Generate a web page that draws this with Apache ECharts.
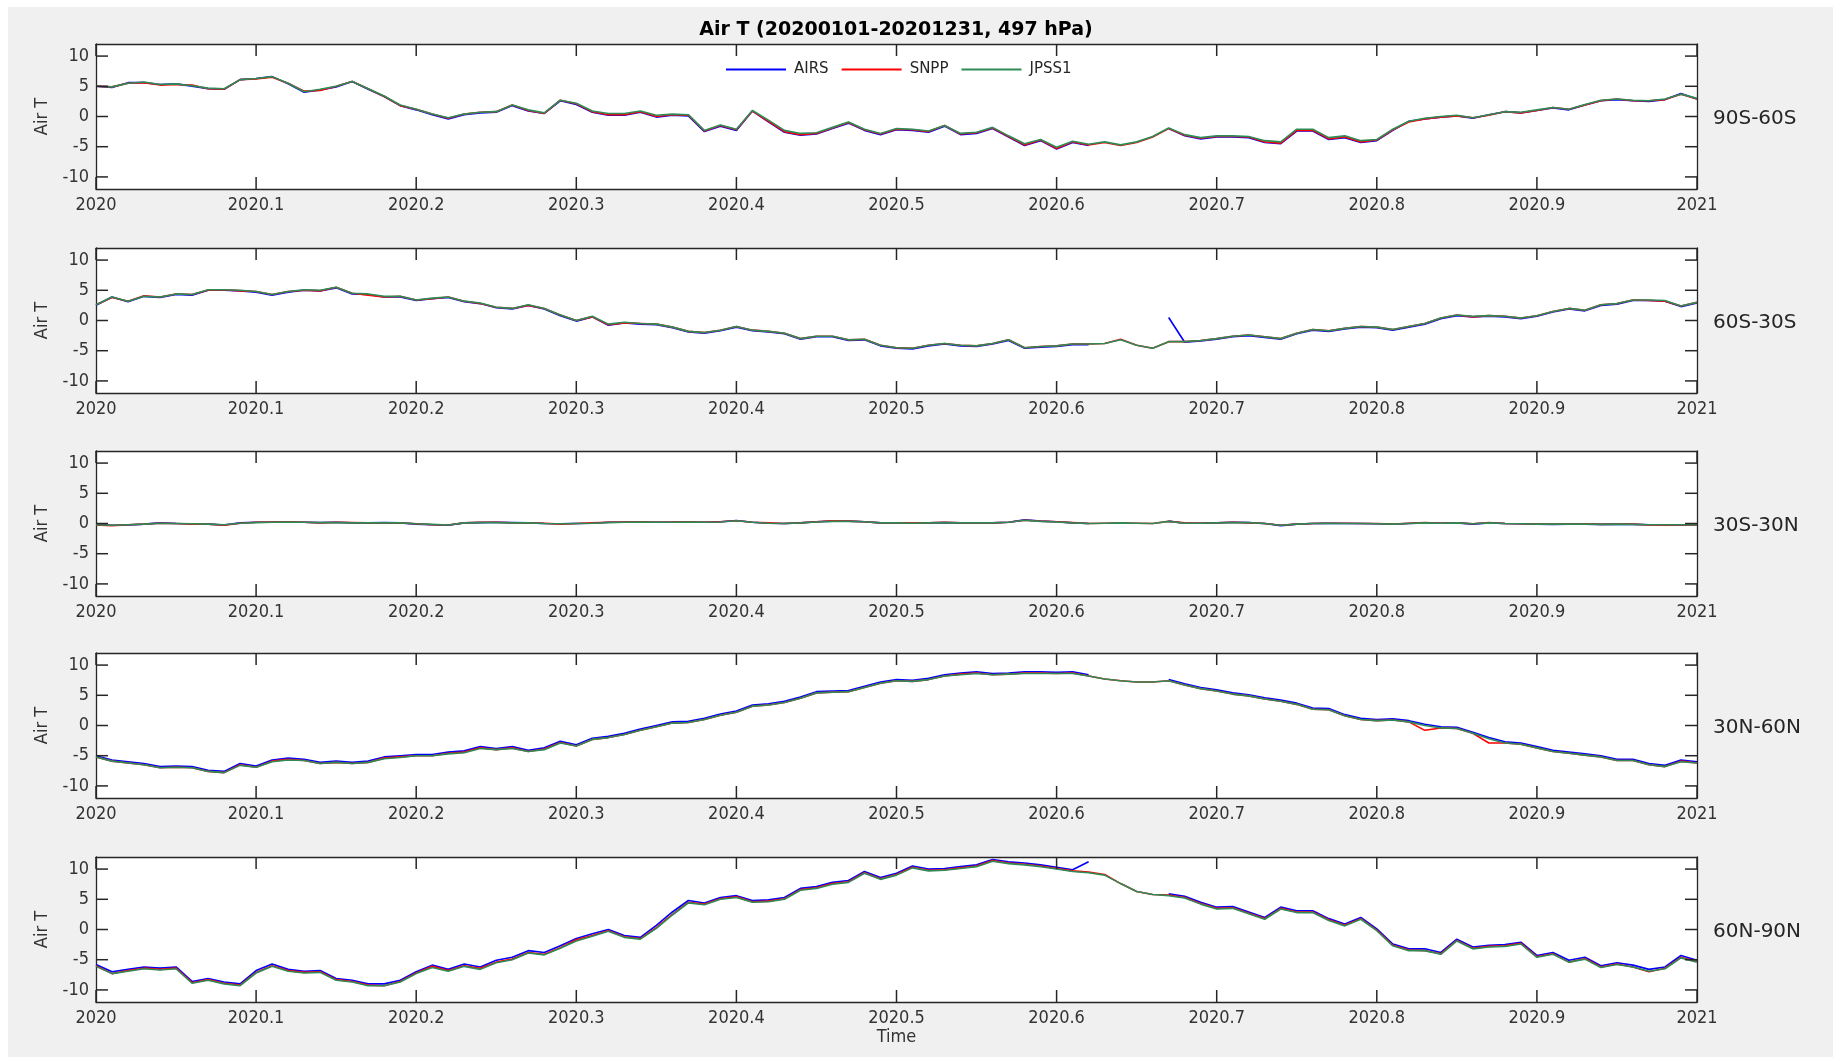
<!DOCTYPE html>
<html>
<head>
<meta charset="utf-8">
<script src="https://cdn.jsdelivr.net/npm/echarts@6/dist/echarts.min.js"></script>
<style>
html,body{margin:0;padding:0;background:#f0f0f0;}
#chart{width:1833px;height:1057px;}
</style>
</head>
<body>
<div id="chart"></div>
<script>
// ---------------- DATA ----------------
const SERIES_NAMES = ['AIRS', 'SNPP', 'JPSS1'];
const REGIONS = ['90S-60S', '60S-30S', '30S-30N', '30N-60N', '60N-90N'];
const X_TICKS = [2020, 2020.1, 2020.2, 2020.3, 2020.4, 2020.5, 2020.6, 2020.7, 2020.8, 2020.9, 2021];
const X_TICK_LABELS = ['2020', '2020.1', '2020.2', '2020.3', '2020.4', '2020.5', '2020.6', '2020.7', '2020.8', '2020.9', '2021'];
const Y_TICKS = [-10, -5, 0, 5, 10];
const TITLE = 'Air T (20200101-20201231, 497 hPa)';

// sampling grid: 2020.00, 2020.01, ... 2021.00 (decimal year)
const TIME = [];
for (let k = 0; k <= 100; k++) TIME.push(2020 + k / 100);

// 90S-60S
const P1_AIRS = [
  5.0, 4.8, 5.6, 5.6, 5.3, 5.4, 5.0, 4.6, 4.5, 6.1,
  6.3, 6.6, 5.4, 4.0, 4.4, 4.9, 5.8, 4.5, 3.3, 1.8,
  1.1, 0.3, -0.4, 0.3, 0.6, 0.7, 1.8, 0.9, 0.5, 2.6,
  2.0, 0.7, 0.2, 0.2, 0.7, -0.1, 0.2, 0.1, -2.5, -1.6,
  -2.3, 0.9, -0.9, -2.6, -3.1, -2.9, -2.0, -1.1, -2.3, -3.0,
  -2.2, -2.3, -2.6, -1.6, -3.0, -2.8, -2.0, -3.4, -4.8, -4.0,
  -5.4, -4.3, -4.8, null, null, null, null, -2.0, -3.2, -3.7,
  -3.4, -3.4, -3.5, -4.3, -4.5, -2.4, -2.4, -3.8, -3.5, -4.3,
  -4.0, -2.3, -0.8, -0.4, -0.1, 0.1, -0.3, 0.3, 0.8, 0.6,
  1.0, 1.4, 1.1, 1.9, 2.6, 2.8, 2.6, 2.5, 2.8, 3.8,
  2.9];
const P1_SNPP = [
  5.0, 4.9, 5.5, 5.6, 5.2, 5.3, 5.2, 4.6, 4.5, 6.1,
  6.2, 6.5, 5.5, 4.2, 4.3, 5.0, 5.8, 4.6, 3.3, 1.8,
  1.2, 0.4, -0.3, 0.4, 0.7, 0.8, 1.9, 1.0, 0.5, 2.7,
  2.1, 0.8, 0.3, 0.3, 0.8, 0.0, 0.3, 0.2, -2.4, -1.5,
  -2.2, 0.9, -0.8, -2.5, -3.0, -2.8, -1.9, -1.0, -2.2, -2.9,
  -2.1, -2.2, -2.5, -1.5, -2.9, -2.7, -1.9, -3.3, -4.7, -3.9,
  -5.3, -4.2, -4.7, -4.3, -4.8, -4.3, -3.4, -2.0, -3.1, -3.6,
  -3.3, -3.3, -3.4, -4.2, -4.4, -2.3, -2.3, -3.7, -3.4, -4.2,
  -3.9, -2.2, -0.9, -0.4, -0.1, 0.1, -0.2, 0.2, 0.8, 0.6,
  1.0, 1.5, 1.2, 1.9, 2.6, 2.9, 2.6, 2.6, 2.8, 3.7,
  2.9];
const P1_JPSS1 = [
  5.0, 4.9, 5.5, 5.7, 5.3, 5.4, 5.1, 4.7, 4.6, 6.1,
  6.3, 6.6, 5.5, 4.1, 4.5, 5.0, 5.8, 4.6, 3.4, 1.9,
  1.2, 0.4, -0.2, 0.4, 0.7, 0.8, 1.9, 1.1, 0.6, 2.7,
  2.2, 0.9, 0.5, 0.5, 0.9, 0.2, 0.4, 0.3, -2.3, -1.4,
  -2.1, 1.0, -0.6, -2.3, -2.8, -2.7, -1.8, -0.9, -2.1, -2.8,
  -2.0, -2.1, -2.4, -1.5, -2.8, -2.6, -1.8, -3.2, -4.5, -3.8,
  -5.1, -4.1, -4.6, -4.2, -4.7, -4.2, -3.3, -1.9, -3.0, -3.5,
  -3.2, -3.2, -3.3, -4.0, -4.2, -2.1, -2.1, -3.5, -3.2, -4.0,
  -3.8, -2.1, -0.8, -0.3, 0.0, 0.2, -0.2, 0.3, 0.8, 0.7,
  1.1, 1.5, 1.2, 2.0, 2.7, 2.9, 2.7, 2.6, 2.9, 3.7,
  3.0];

// 60S-30S
const P2_AIRS = [
  2.5, 3.9, 3.1, 4.0, 3.8, 4.3, 4.2, 5.0, 5.0, 4.9,
  4.7, 4.2, 4.7, 5.0, 4.9, 5.4, 4.4, 4.3, 3.9, 3.9,
  3.3, 3.6, 3.8, 3.1, 2.8, 2.1, 1.9, 2.5, 1.9, 0.8,
  -0.1, 0.6, -0.8, -0.4, -0.6, -0.7, -1.2, -1.9, -2.1, -1.7,
  -1.1, -1.7, -1.9, -2.2, -3.1, -2.7, -2.7, -3.3, -3.2, -4.2,
  -4.6, -4.7, -4.2, -3.9, -4.2, -4.3, -3.9, -3.3, -4.6, -4.4,
  -4.3, -4.0, -4.0, null, null, null, null, 0.5, -3.6, -3.4,
  -3.1, -2.7, -2.5, -2.8, -3.1, -2.2, -1.6, -1.8, -1.4, -1.1,
  -1.2, -1.6, -1.1, -0.6, 0.3, 0.8, 0.6, 0.7, 0.6, 0.3,
  0.7, 1.4, 1.9, 1.6, 2.5, 2.7, 3.3, 3.3, 3.2, 2.3,
  2.9];
const P2_SNPP = [
  2.6, 3.8, 3.2, 4.1, 3.9, 4.4, 4.3, 5.0, 5.1, 4.9,
  4.8, 4.3, 4.8, 5.0, 4.9, 5.5, 4.5, 4.2, 3.9, 4.0,
  3.4, 3.6, 3.9, 3.2, 2.8, 2.2, 2.0, 2.5, 2.0, 0.9,
  0.0, 0.6, -0.7, -0.4, -0.5, -0.6, -1.1, -1.8, -2.0, -1.6,
  -1.0, -1.6, -1.8, -2.1, -3.0, -2.6, -2.6, -3.2, -3.1, -4.1,
  -4.5, -4.6, -4.1, -3.8, -4.1, -4.2, -3.8, -3.2, -4.5, -4.3,
  -4.2, -3.9, -3.9, -3.8, -3.1, -4.1, -4.6, -3.5, -3.5, -3.3,
  -3.0, -2.6, -2.4, -2.7, -3.0, -2.1, -1.5, -1.7, -1.3, -1.0,
  -1.1, -1.5, -1.0, -0.5, 0.4, 0.9, 0.6, 0.8, 0.7, 0.4,
  0.8, 1.5, 2.0, 1.7, 2.6, 2.8, 3.4, 3.3, 3.2, 2.4,
  3.0];
const P2_JPSS1 = [
  2.6, 3.9, 3.2, 4.0, 3.9, 4.4, 4.3, 5.1, 5.1, 5.0,
  4.8, 4.3, 4.8, 5.1, 5.0, 5.5, 4.5, 4.4, 4.0, 4.0,
  3.4, 3.7, 3.9, 3.2, 2.9, 2.2, 2.0, 2.6, 2.0, 0.9,
  0.0, 0.7, -0.6, -0.3, -0.5, -0.6, -1.1, -1.8, -2.0, -1.6,
  -1.0, -1.6, -1.8, -2.1, -3.0, -2.6, -2.6, -3.2, -3.1, -4.1,
  -4.5, -4.6, -4.1, -3.8, -4.1, -4.2, -3.8, -3.2, -4.5, -4.3,
  -4.2, -3.9, -3.9, -3.8, -3.2, -4.1, -4.6, -3.5, -3.5, -3.3,
  -3.0, -2.6, -2.4, -2.7, -3.0, -2.1, -1.5, -1.7, -1.3, -1.0,
  -1.1, -1.5, -1.0, -0.5, 0.4, 0.9, 0.7, 0.8, 0.7, 0.4,
  0.8, 1.5, 2.0, 1.7, 2.6, 2.8, 3.4, 3.4, 3.3, 2.4,
  3.0];

// 30S-30N
const P3_AIRS = [
  -0.2, -0.3, -0.25, -0.1, 0.1, 0.0, -0.05, -0.1, -0.25, 0.1,
  0.2, 0.2, 0.25, 0.2, 0.15, 0.2, 0.1, 0.1, 0.15, 0.1,
  -0.1, -0.2, -0.3, 0.1, 0.15, 0.2, 0.15, 0.1, 0.0, -0.05,
  0.0, 0.05, 0.2, 0.2, 0.25, 0.2, 0.2, 0.25, 0.2, 0.3,
  0.5, 0.2, 0.05, 0.0, 0.1, 0.3, 0.4, 0.4, 0.3, 0.1,
  0.1, 0.05, 0.1, 0.15, 0.1, 0.1, 0.1, 0.2, 0.6, 0.4,
  0.3, 0.1, 0.0, null, null, null, null, 0.4, 0.05, 0.05,
  0.1, 0.2, 0.15, 0.0, -0.35, -0.1, 0.0, 0.05, 0.0, 0.0,
  -0.05, -0.1, 0.0, 0.1, 0.05, 0.1, -0.1, 0.1, 0.0, -0.05,
  -0.1, -0.15, -0.1, -0.1, -0.15, -0.1, -0.15, -0.2, -0.25, -0.2,
  -0.3];
const P3_SNPP = [
  -0.25, -0.35, -0.2, -0.1, 0.05, 0.0, -0.1, -0.1, -0.3, 0.05,
  0.2, 0.25, 0.3, 0.2, 0.1, 0.2, 0.15, 0.1, 0.1, 0.1,
  -0.05, -0.2, -0.25, 0.1, 0.2, 0.2, 0.1, 0.1, 0.05, -0.1,
  0.0, 0.1, 0.2, 0.25, 0.3, 0.2, 0.25, 0.3, 0.2, 0.3,
  0.45, 0.2, 0.1, 0.0, 0.1, 0.3, 0.45, 0.4, 0.3, 0.1,
  0.1, 0.1, 0.1, 0.2, 0.1, 0.05, 0.1, 0.2, 0.55, 0.4,
  0.3, 0.15, 0.0, 0.05, 0.1, 0.05, 0.0, 0.35, 0.1, 0.05,
  0.1, 0.2, 0.1, 0.0, -0.3, -0.1, 0.0, 0.05, 0.05, 0.0,
  0.0, -0.1, 0.05, 0.15, 0.05, 0.1, -0.05, 0.15, 0.0, -0.05,
  -0.1, -0.1, -0.1, -0.05, -0.15, -0.1, -0.1, -0.25, -0.3, -0.2,
  -0.25];
const P3_JPSS1 = [
  -0.2, -0.3, -0.2, -0.1, 0.05, 0.0, -0.05, -0.1, -0.2, 0.05,
  0.15, 0.2, 0.25, 0.2, 0.15, 0.15, 0.1, 0.1, 0.1, 0.1,
  -0.05, -0.15, -0.25, 0.1, 0.15, 0.15, 0.1, 0.1, 0.0, -0.05,
  0.0, 0.05, 0.15, 0.2, 0.25, 0.2, 0.2, 0.25, 0.2, 0.25,
  0.45, 0.2, 0.05, 0.0, 0.1, 0.25, 0.35, 0.35, 0.3, 0.1,
  0.1, 0.05, 0.1, 0.15, 0.1, 0.1, 0.1, 0.2, 0.55, 0.35,
  0.25, 0.1, 0.0, 0.05, 0.1, 0.05, 0.0, 0.35, 0.05, 0.05,
  0.1, 0.15, 0.15, 0.0, -0.3, -0.1, 0.0, 0.05, 0.0, 0.0,
  -0.05, -0.1, 0.0, 0.1, 0.05, 0.1, -0.05, 0.1, 0.0, -0.05,
  -0.1, -0.1, -0.1, -0.1, -0.15, -0.1, -0.15, -0.2, -0.2, -0.2,
  -0.25];

// 30N-60N
const P4_AIRS = [
  -5.0, -5.7, -6.0, -6.3, -6.8, -6.7, -6.8, -7.4, -7.6, -6.3,
  -6.7, -5.7, -5.4, -5.6, -6.1, -5.9, -6.1, -5.9, -5.2, -5.0,
  -4.8, -4.8, -4.4, -4.2, -3.5, -3.8, -3.5, -4.1, -3.7, -2.6,
  -3.2, -2.1, -1.8, -1.3, -0.6, 0.0, 0.6, 0.7, 1.2, 1.9,
  2.4, 3.4, 3.6, 4.0, 4.7, 5.6, 5.7, 5.8, 6.5, 7.2,
  7.6, 7.5, 7.8, 8.4, 8.7, 8.9, 8.6, 8.7, 8.9, 8.9,
  8.8, 8.9, 8.4, null, null, null, null, 7.6, 6.9, 6.3,
  5.9, 5.4, 5.1, 4.6, 4.2, 3.7, 2.9, 2.8, 1.8, 1.2,
  1.0, 1.1, 0.8, 0.2, -0.2, -0.3, -1.1, -2.0, -2.7, -2.9,
  -3.5, -4.1, -4.4, -4.7, -5.0, -5.6, -5.6, -6.3, -6.6, -5.7,
  -6.0];
const P4_SNPP = [
  -5.2, -5.9, -6.2, -6.5, -7.0, -6.9, -7.0, -7.6, -7.8, -6.5,
  -6.9, -5.9, -5.6, -5.8, -6.3, -6.1, -6.3, -6.1, -5.4, -5.2,
  -5.0, -5.0, -4.6, -4.4, -3.7, -4.0, -3.7, -4.3, -3.9, -2.8,
  -3.4, -2.3, -2.0, -1.5, -0.8, -0.2, 0.4, 0.5, 1.0, 1.7,
  2.2, 3.2, 3.4, 3.8, 4.5, 5.4, 5.5, 5.6, 6.3, 7.0,
  7.4, 7.3, 7.6, 8.2, 8.5, 8.7, 8.4, 8.5, 8.7, 8.7,
  8.6, 8.7, 8.2, 7.7, 7.4, 7.2, 7.2, 7.4, 6.7, 6.1,
  5.7, 5.2, 4.9, 4.4, 4.0, 3.5, 2.7, 2.6, 1.6, 1.0,
  0.8, 0.9, 0.6, -0.8, -0.4, -0.5, -1.3, -2.9, -2.9, -3.1,
  -3.7, -4.3, -4.6, -4.9, -5.2, -5.8, -5.8, -6.5, -6.8, -5.9,
  -6.2];
const P4_JPSS1 = [
  -5.2, -5.9, -6.2, -6.5, -7.0, -6.9, -7.0, -7.6, -7.8, -6.6,
  -6.9, -6.0, -5.7, -5.8, -6.3, -6.1, -6.3, -6.1, -5.5, -5.3,
  -5.0, -5.0, -4.7, -4.5, -3.8, -4.0, -3.8, -4.3, -4.0, -2.9,
  -3.4, -2.3, -2.0, -1.5, -0.8, -0.2, 0.4, 0.5, 1.0, 1.7,
  2.2, 3.2, 3.4, 3.8, 4.5, 5.4, 5.5, 5.6, 6.3, 7.0,
  7.4, 7.3, 7.6, 8.2, 8.4, 8.6, 8.4, 8.5, 8.6, 8.6,
  8.6, 8.6, 8.2, 7.7, 7.4, 7.2, 7.2, 7.4, 6.7, 6.1,
  5.7, 5.2, 4.9, 4.4, 4.0, 3.5, 2.7, 2.6, 1.6, 1.0,
  0.8, 0.9, 0.6, 0.0, -0.4, -0.5, -1.3, -2.2, -2.9, -3.1,
  -3.7, -4.3, -4.6, -4.9, -5.2, -5.8, -5.8, -6.5, -6.8, -6.0,
  -6.2];

// 60N-90N
const P5_AIRS = [
  -5.8, -7.0, -6.6, -6.2, -6.4, -6.2, -8.6, -8.1, -8.7, -9.0,
  -6.8, -5.7, -6.6, -6.9, -6.8, -8.1, -8.4, -9.0, -9.0, -8.4,
  -7.0, -5.9, -6.6, -5.7, -6.2, -5.1, -4.6, -3.5, -3.8, -2.7,
  -1.5, -0.7, 0.0, -1.0, -1.3, 0.7, 2.9, 4.8, 4.4, 5.3,
  5.6, 4.8, 4.9, 5.3, 6.8, 7.1, 7.8, 8.1, 9.6, 8.6,
  9.3, 10.5, 10.0, 10.1, 10.4, 10.7, 11.6, 11.2, 11.0, 10.7,
  10.3, 9.9, 11.2, null, null, null, null, 5.9, 5.5, 4.5,
  3.7, 3.8, 2.9, 2.0, 3.7, 3.1, 3.1, 1.8, 0.9, 2.0,
  0.1, -2.4, -3.2, -3.2, -3.8, -1.6, -2.9, -2.6, -2.5, -2.1,
  -4.3, -3.8, -5.1, -4.6, -6.0, -5.5, -5.9, -6.6, -6.2, -4.3,
  -5.1];
const P5_SNPP = [
  -6.0, -7.3, -6.8, -6.4, -6.6, -6.4, -8.8, -8.3, -8.9, -9.2,
  -7.1, -6.0, -6.8, -7.1, -7.0, -8.3, -8.6, -9.2, -9.3, -8.6,
  -7.2, -6.1, -6.8, -6.0, -6.4, -5.4, -4.9, -3.8, -4.1, -3.0,
  -1.7, -1.0, -0.2, -1.2, -1.5, 0.3, 2.5, 4.5, 4.2, 5.1,
  5.4, 4.6, 4.7, 5.1, 6.6, 6.9, 7.6, 7.9, 9.4, 8.4,
  9.1, 10.3, 9.8, 9.9, 10.2, 10.5, 11.4, 11.0, 10.8, 10.5,
  10.1, 9.7, 9.5, 9.1, 7.6, 6.3, 5.8, 5.7, 5.3, 4.3,
  3.5, 3.6, 2.7, 1.8, 3.5, 2.9, 2.9, 1.6, 0.7, 1.8,
  -0.1, -2.6, -3.4, -3.5, -4.0, -1.8, -3.1, -2.8, -2.7, -2.3,
  -4.5, -4.0, -5.4, -4.8, -6.2, -5.7, -6.2, -7.0, -6.4, -4.6,
  -5.3];
const P5_JPSS1 = [
  -6.1, -7.3, -6.9, -6.5, -6.7, -6.5, -8.9, -8.4, -9.0, -9.3,
  -7.2, -6.1, -6.9, -7.2, -7.1, -8.4, -8.7, -9.3, -9.3, -8.7,
  -7.3, -6.3, -6.9, -6.1, -6.6, -5.5, -5.0, -3.9, -4.2, -3.1,
  -1.9, -1.1, -0.3, -1.3, -1.6, 0.2, 2.4, 4.4, 4.1, 5.0,
  5.3, 4.5, 4.6, 5.0, 6.5, 6.8, 7.5, 7.8, 9.3, 8.3,
  9.0, 10.2, 9.7, 9.8, 10.1, 10.4, 11.3, 10.9, 10.7, 10.4,
  10.0, 9.6, 9.4, 9.0, 7.6, 6.3, 5.8, 5.6, 5.2, 4.2,
  3.4, 3.5, 2.6, 1.7, 3.4, 2.8, 2.8, 1.5, 0.6, 1.7,
  -0.2, -2.7, -3.5, -3.5, -4.1, -1.9, -3.2, -2.9, -2.8, -2.4,
  -4.6, -4.1, -5.4, -4.9, -6.3, -5.8, -6.2, -6.9, -6.5, -4.7,
  -5.4];

const PANELS = [
  [P1_AIRS, P1_SNPP, P1_JPSS1],
  [P2_AIRS, P2_SNPP, P2_JPSS1],
  [P3_AIRS, P3_SNPP, P3_JPSS1],
  [P4_AIRS, P4_SNPP, P4_JPSS1],
  [P5_AIRS, P5_SNPP, P5_JPSS1]
];

// ---------------- STYLE / LAYOUT ----------------
const COLORS = ['#0000ff', '#ff0000', '#2e8b57'];
const GRID_TOPS = [44, 248, 451, 653, 857];
const GRID_LEFT = 96, GRID_RIGHT = 136, GRID_H = 145, GRID_W = 1833 - 96 - 136;
const TICK_FONT = '"DejaVu Sans Condensed", "DejaVu Sans", sans-serif';
const AXIS_COLOR = '#262626';
const LABEL_COLOR = '#333333';
const TICK_LEN = 12; // px
const TICK_W = 1.5;  // px
const X_MIN = 2020, X_MAX = 2021, Y_MIN = -12, Y_MAX = 12;

// inward tick marks drawn as thin rectangular scatter symbols anchored on the box edges
function tickSeries(i, data, size, offset) {
  return {
    name: 'ticks', type: 'scatter', xAxisIndex: 2 * i, yAxisIndex: 2 * i, z: 6,
    silent: true, clip: false, symbol: 'rect', symbolSize: size, symbolOffset: offset,
    itemStyle: { color: AXIS_COLOR, opacity: 1 },
    emphasis: { disabled: true },
    data: data
  };
}

const grids = [], xAxes = [], yAxes = [], series = [], graphics = [];

PANELS.forEach((arrs, i) => {
  grids.push({ left: GRID_LEFT, right: GRID_RIGHT, top: GRID_TOPS[i], height: GRID_H, show: false });
  graphics.push({
    type: 'rect', z: -1, silent: true,
    shape: { x: GRID_LEFT, y: GRID_TOPS[i], width: GRID_W, height: GRID_H },
    style: { fill: '#ffffff' }
  });
  const lineStyle = { show: true, onZero: false, lineStyle: { color: AXIS_COLOR, width: 1.3 } };
  const xb = {
    gridIndex: i, type: 'value', min: X_MIN, max: X_MAX, interval: 0.1, position: 'bottom',
    axisLine: lineStyle, axisTick: { show: false }, splitLine: { show: false },
    axisLabel: {
      show: true, margin: 7, color: LABEL_COLOR, fontFamily: TICK_FONT, fontSize: 18,
      showMinLabel: true, showMaxLabel: true,
      formatter: v => X_TICK_LABELS[Math.round((v - 2020) * 10)]
    }
  };
  if (i === PANELS.length - 1) {
    Object.assign(xb, {
      name: 'Time', nameLocation: 'middle', nameGap: 26,
      nameTextStyle: { color: LABEL_COLOR, fontFamily: TICK_FONT, fontSize: 18 }
    });
  }
  xAxes.push(xb);
  xAxes.push({
    gridIndex: i, type: 'value', min: X_MIN, max: X_MAX, interval: 0.1, position: 'top',
    axisLine: lineStyle, axisTick: { show: false }, splitLine: { show: false },
    axisLabel: { show: false }
  });
  yAxes.push({
    gridIndex: i, type: 'value', min: Y_MIN, max: Y_MAX, position: 'left',
    axisLine: lineStyle, splitLine: { show: false }, axisTick: { show: false },
    axisLabel: { customValues: Y_TICKS, margin: 7, color: LABEL_COLOR, fontFamily: TICK_FONT, fontSize: 18 },
    name: 'Air T', nameLocation: 'middle', nameGap: 33, nameRotate: 90,
    nameTextStyle: { color: LABEL_COLOR, fontFamily: TICK_FONT, fontSize: 18 }
  });
  yAxes.push({
    gridIndex: i, type: 'value', min: Y_MIN, max: Y_MAX, position: 'right',
    axisLine: lineStyle, splitLine: { show: false }, axisTick: { show: false },
    axisLabel: { show: false }
  });
  arrs.forEach((arr, s) => {
    series.push({
      name: SERIES_NAMES[s], type: 'line', xAxisIndex: 2 * i, yAxisIndex: 2 * i,
      showSymbol: false, symbol: 'none', connectNulls: false, silent: true,
      lineStyle: { color: COLORS[s], width: 1.6 }, itemStyle: { color: COLORS[s] },
      data: TIME.map((t, k) => [t, arr[k] === null ? '-' : arr[k]])
    });
  });
  // bottom, top, left, right ticks
  series.push(tickSeries(i, X_TICKS.map(v => [v, Y_MIN]), [TICK_W, TICK_LEN], [0, -TICK_LEN / 2]));
  series.push(tickSeries(i, X_TICKS.map(v => [v, Y_MAX]), [TICK_W, TICK_LEN], [0, TICK_LEN / 2]));
  series.push(tickSeries(i, Y_TICKS.map(v => [X_MIN, v]), [TICK_LEN, TICK_W], [TICK_LEN / 2, 0]));
  series.push(tickSeries(i, Y_TICKS.map(v => [X_MAX, v]), [TICK_LEN, TICK_W], [-TICK_LEN / 2, 0]));
  graphics.push({
    type: 'text', x: 1713, y: GRID_TOPS[i] + GRID_H / 2 + 2,
    style: { text: REGIONS[i], fill: '#262626', font: '20px "DejaVu Sans"', align: 'left', verticalAlign: 'middle' }
  });
});

graphics.push({
  type: 'text', x: 896, y: 30,
  style: { text: TITLE, fill: '#000000', font: 'bold 19px "DejaVu Sans"', align: 'center', verticalAlign: 'middle' }
});
graphics.push({ type: 'rect', shape: { x: 0, y: 0, width: 1833, height: 7 }, style: { fill: '#ffffff' }, z: -10 });
graphics.push({ type: 'rect', shape: { x: 0, y: 0, width: 8, height: 1057 }, style: { fill: '#ffffff' }, z: -10 });

const chart = echarts.init(document.getElementById('chart'), null, { renderer: 'canvas' });
chart.setOption({
  animation: false,
  backgroundColor: '#f0f0f0',
  legend: {
    data: SERIES_NAMES, left: 721, top: 57, icon: 'rect', itemWidth: 60, itemHeight: 2, itemGap: 13,
    textStyle: { color: '#262626', fontFamily: '"DejaVu Sans"', fontSize: 15, padding: [0, 0, 0, 3] }
  },
  grid: grids,
  xAxis: xAxes,
  yAxis: yAxes,
  series: series,
  graphic: graphics
});
</script>
</body>
</html>
